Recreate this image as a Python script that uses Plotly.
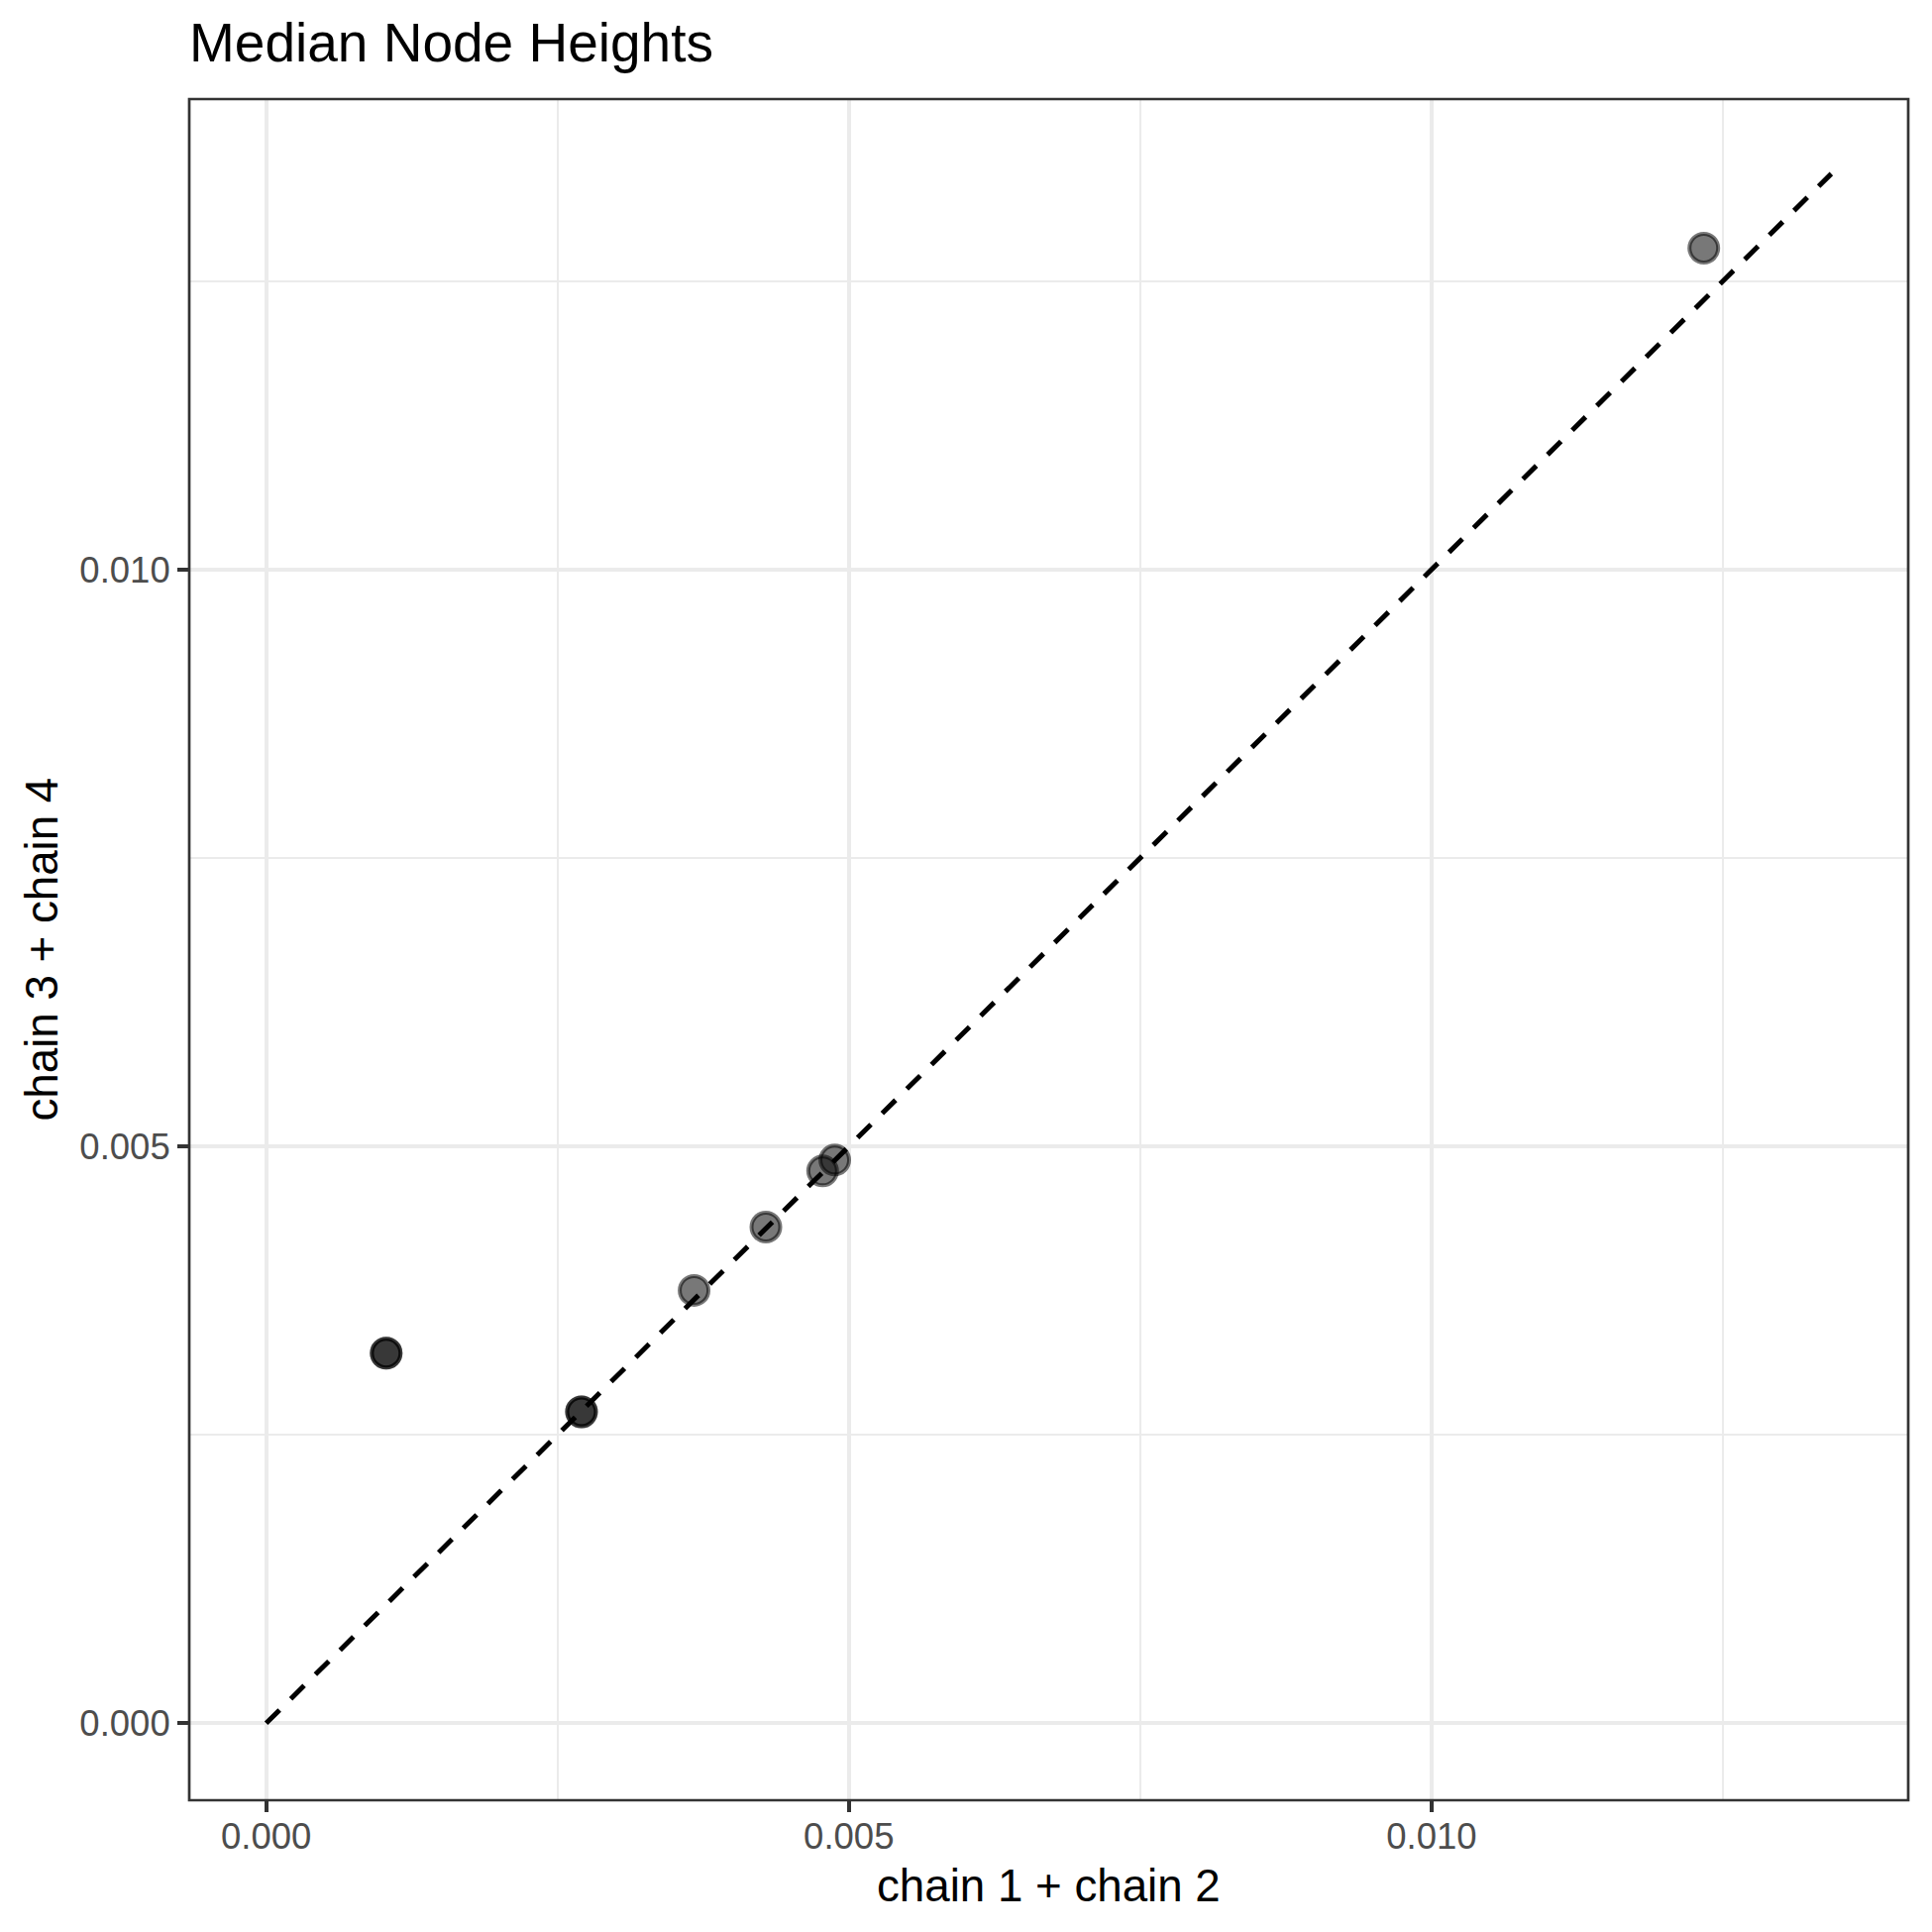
import plotly.graph_objects as go

# Data (median node heights)
chain12 = [0.00103, 0.00103, 0.002706, 0.002706, 0.003672, 0.004288, 0.004775, 0.004879, 0.012336]
chain34 = [0.003208, 0.003208, 0.002699, 0.002699, 0.003752, 0.004301, 0.004787, 0.004882, 0.012785]
line_xy = [0.0, 0.01343]
x_range = [-0.00066, 0.01409]
y_range = [-0.000667, 0.014077]
tick_vals = [0.0, 0.005, 0.010]
tick_text = ["0.000", "0.005", "0.010"]

FONT = "Liberation Sans, Arial, Helvetica, sans-serif"

fig = go.Figure()
fig.add_trace(go.Scatter(
    x=chain12, y=chain34, mode="markers",
    marker=dict(size=29, color="rgba(0,0,0,0.53)",
                line=dict(width=4, color="rgba(0,0,0,0.53)")),
    showlegend=False, hoverinfo="skip"))
fig.add_trace(go.Scatter(
    x=line_xy, y=line_xy, mode="lines",
    line=dict(color="black", width=5, dash="19px,16px"),
    showlegend=False, hoverinfo="skip"))

axis_common = dict(
    tickvals=tick_vals, ticktext=tick_text,
    showgrid=True, gridcolor="#EBEBEB", gridwidth=4.3,
    zeroline=False, showline=False,
    ticks="outside", ticklen=11, tickwidth=4.3, tickcolor="#333333",
    tickfont=dict(family=FONT, size=36.5, color="#4D4D4D"),
    minor=dict(tick0=0, dtick=0.0025, showgrid=True, gridcolor="#EBEBEB",
               gridwidth=2.2, ticks=""),
)

fig.update_xaxes(range=x_range, ticklabelstandoff=-7, **axis_common)
fig.update_yaxes(range=y_range, **axis_common)

fig.add_shape(type="rect", xref="paper", yref="paper", x0=0, y0=0, x1=1, y1=1,
              line=dict(color="#333333", width=2.7), layer="above")

fig.add_annotation(text="chain 1 + chain 2", xref="paper", yref="paper",
                   x=0.5, y=0, xanchor="center", yanchor="middle", yshift=-86,
                   showarrow=False, font=dict(family=FONT, size=45.7, color="black"))
fig.add_annotation(text="chain 3 + chain 4", xref="paper", yref="paper",
                   x=0, y=0.5, xanchor="center", yanchor="middle", xshift=-149,
                   textangle=-90,
                   showarrow=False, font=dict(family=FONT, size=45.7, color="black"))

fig.update_layout(
    width=1950, height=1950,
    margin=dict(l=190.5, r=24, t=99.5, b=133, pad=0),
    paper_bgcolor="white", plot_bgcolor="white",
    title=dict(text="Median Node Heights", x=0, xref="paper", xanchor="left",
               y=1 - 62 / 1950, yref="container", yanchor="bottom",
               font=dict(family=FONT, size=55, color="black")),
)

fig.write_html("out.html")
